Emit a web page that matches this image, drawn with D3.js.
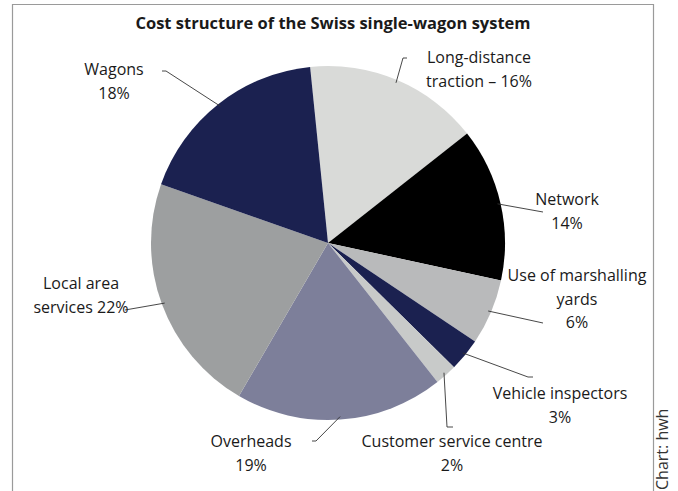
<!DOCTYPE html>
<html lang="en">
  <head>
    <meta charset="UTF-8" />
    <title>Cost structure of the Swiss single-wagon system</title>
    <script src="https://cdn.jsdelivr.net/npm/d3@7"></script>
    <style>
      body { margin: 0; background: #fff; }
      text { font-family: 'Open Sans', 'Noto Sans', sans-serif; fill: #1a1a1a; }
    </style>
  </head>
  <body>
    <div id="container"></div>
    <script>
      // data, clockwise from the top
      const categories = ['Long-distance traction', 'Network', 'Use of marshalling yards',
        'Vehicle inspectors', 'Customer service centre', 'Overheads', 'Local area services', 'Wagons']
      const shares = [16, 14, 6, 3, 2, 19, 22, 18]
      const labelLines = [
        ['Long-distance', 'traction – 16%'],
        ['Network', '14%'],
        ['Use of marshalling', 'yards', '6%'],
        ['Vehicle inspectors', '3%'],
        ['Customer service centre', '2%'],
        ['Overheads', '19%'],
        ['Local area', 'services 22%'],
        ['Wagons', '18%']
      ]
      const colors = ['#d9dad8', '#000000', '#b9babb', '#1b2150', '#c8cac9', '#7d7f9a', '#9d9fa0', '#1b2150']

      // label layout: text anchor point (first baseline) and leader line bends
      const labelPos = [
        { x: 479, y: 63, bends: [[403, 58], [407, 58]] },
        { x: 567, y: 205, bends: [[543, 212]] },
        { x: 577, y: 281, bends: [[543, 323]] },
        { x: 560, y: 399, bends: [[528, 377], [533, 377]] },
        { x: 452, y: 447, bends: [[447, 427], [453, 427]] },
        { x: 251, y: 447, bends: [[316, 441], [312, 441]] },
        { x: 81, y: 289, bends: [[125, 310]] },
        { x: 114, y: 75, bends: [[166, 71], [162, 71]] }
      ]

      const width = 678
      const height = 491
      const cx = 328
      const cy = 243
      const radius = 177
      const lineGap = 23.5

      const svg = d3.create('svg')
        .attr('width', width)
        .attr('height', height)
        .attr('viewBox', [0, 0, width, height])

      // frame
      svg.append('path')
        .attr('d', `M12.5,${height} V4.5 H653.5 V${height}`)
        .attr('fill', 'none')
        .attr('stroke', '#9a9a9a')
        .attr('stroke-width', 1.2)

      svg.append('text')
        .attr('x', 333)
        .attr('y', 29)
        .attr('text-anchor', 'middle')
        .attr('font-weight', 'bold')
        .attr('font-size', 16.5)
        .text('Cost structure of the Swiss single-wagon system')

      const pie = d3.pie()
        .sort(null)
        .value((d) => d)
        .startAngle(-5.8 * Math.PI / 180)
        .endAngle(2 * Math.PI - 5.8 * Math.PI / 180)

      const arcs = pie(shares)
      const arc = d3.arc().innerRadius(0).outerRadius(radius)

      const g = svg.append('g').attr('transform', `translate(${cx},${cy})`)
      g.selectAll('path')
        .data(arcs)
        .join('path')
        .attr('d', arc)
        .attr('fill', (d, i) => colors[i])
        .append('title')
        .text((d, i) => `${categories[i]}: ${shares[i]}%`)

      // leader lines
      const edgePoint = (d) => {
        const a = (d.startAngle + d.endAngle) / 2
        const r = radius - 3
        return [cx + r * Math.sin(a), cy - r * Math.cos(a)]
      }
      svg.append('g')
        .selectAll('path')
        .data(arcs)
        .join('path')
        .attr('d', (d, i) => d3.line()([edgePoint(d), ...labelPos[i].bends]))
        .attr('fill', 'none')
        .attr('stroke', '#333')
        .attr('stroke-width', 0.9)

      // labels
      const labels = svg.append('g')
        .attr('font-size', 16)
        .attr('text-anchor', 'middle')
        .selectAll('text')
        .data(arcs)
        .join('text')
        .attr('x', (d, i) => labelPos[i].x)
        .attr('y', (d, i) => labelPos[i].y)
      labels.selectAll('tspan')
        .data((d, i) => labelLines[i].map((t) => ({ t, x: labelPos[i].x })))
        .join('tspan')
        .attr('x', (d) => d.x)
        .attr('dy', (d, j) => (j === 0 ? 0 : lineGap))
        .text((d) => d.t)

      svg.append('text')
        .attr('transform', 'translate(668,490) rotate(-90)')
        .attr('font-size', 16)
        .style('fill', '#333')
        .text('Chart: hwh')

      document.getElementById('container').append(svg.node())
    </script>
  </body>
</html>
